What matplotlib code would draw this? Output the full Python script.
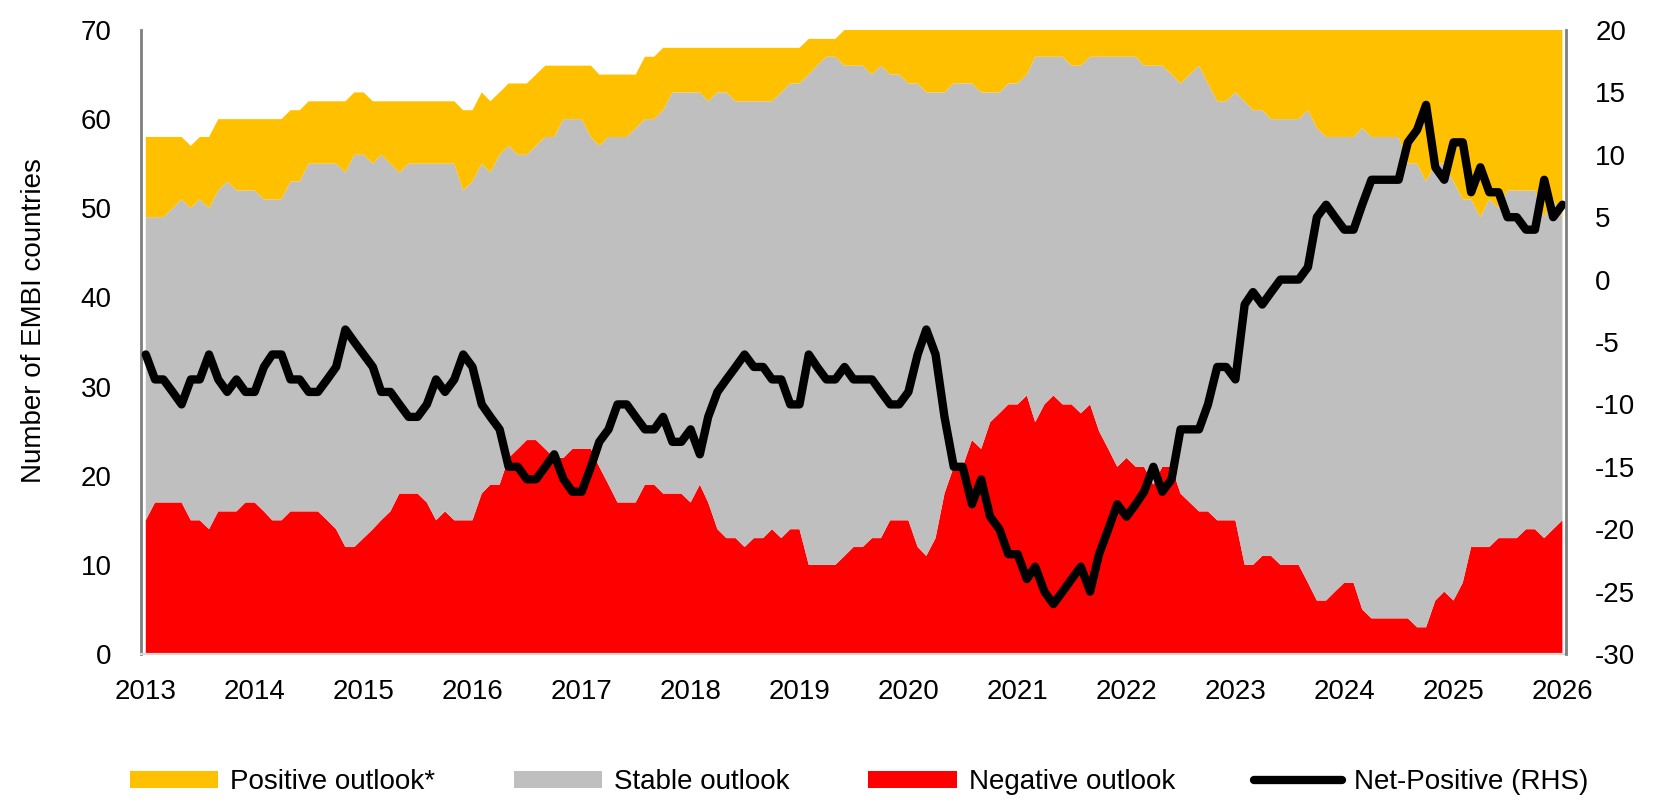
import matplotlib
matplotlib.use("Agg")
import matplotlib.pyplot as plt
import matplotlib.dates as mdates
from matplotlib.patches import Patch
from matplotlib.lines import Line2D
import pandas as pd

plt.rcParams['font.family'] = ['Liberation Sans', 'DejaVu Sans']
plt.rcParams['axes.unicode_minus'] = False

# ---------------- data (monthly, Jan-2013 .. Jan-2026) ----------------
dates = pd.date_range("2013-01-01", "2026-01-01", freq="MS")

negative = [15,17,17,17,17,15,15,14,16,16,
            16,17,17,16,15,15,16,16,16,16,
            15,14,12,12,13,14,15,16,18,18,
            18,17,15,16,15,15,15,18,19,19,
            22,23,24,24,23,22,22,23,23,23,
            21,19,17,17,17,19,19,18,18,18,
            17,19,17,14,13,13,12,13,13,14,
            13,14,14,10,10,10,10,11,12,12,
            13,13,15,15,15,12,11,13,18,21,
            21,24,23,26,27,28,28,29,26,28,
            29,28,28,27,28,25,23,21,22,21,
            21,19,21,21,18,17,16,16,15,15,
            15,10,10,11,11,10,10,10,8,6,
            6,7,8,8,5,4,4,4,4,4,
            3,3,6,7,6,8,12,12,12,13,
            13,13,14,14,13,14,15]

stable = [34,32,32,33,34,35,36,36,36,37,
          36,35,35,35,36,36,37,37,39,39,
          40,41,42,44,43,41,41,39,36,37,
          37,38,40,39,40,37,38,37,35,37,
          35,33,32,33,35,36,38,37,37,35,
          36,39,41,41,42,41,41,43,45,45,
          46,44,45,49,50,49,50,49,49,48,
          50,50,50,55,56,57,57,55,54,54,
          52,53,50,50,49,52,52,50,45,43,
          43,40,40,37,36,36,36,36,41,39,
          38,39,38,39,39,42,44,46,45,46,
          45,47,45,44,46,48,50,48,47,47,
          48,52,51,50,49,50,50,50,53,53,
          52,51,50,50,54,54,54,54,54,51,
          52,50,49,48,47,43,39,37,39,37,
          39,39,38,38,36,37,34]

positive = [9,9,9,8,7,7,7,8,8,7,
            8,8,8,9,9,9,8,8,7,7,
            7,7,8,7,7,7,6,7,8,7,
            7,7,7,7,7,9,8,8,8,7,
            7,8,8,8,8,8,6,6,6,8,
            8,7,7,7,6,7,7,7,5,5,
            5,5,6,5,5,6,6,6,6,6,
            5,4,4,4,3,2,2,4,4,4,
            5,4,5,5,6,6,7,7,7,6,
            6,6,7,7,7,6,6,5,3,3,
            3,3,4,4,3,3,3,3,3,3,
            4,4,4,5,6,5,4,6,8,8,
            7,8,9,9,10,10,10,10,9,11,
            12,12,12,12,11,12,12,12,12,15,
            15,17,15,15,17,19,19,21,19,20,
            18,18,18,18,21,19,21]

net_positive = [-6,-8,-8,-9,-10,-8,-8,-6,-8,-9,
                -8,-9,-9,-7,-6,-6,-8,-8,-9,-9,
                -8,-7,-4,-5,-6,-7,-9,-9,-10,-11,
                -11,-10,-8,-9,-8,-6,-7,-10,-11,-12,
                -15,-15,-16,-16,-15,-14,-16,-17,-17,-15,
                -13,-12,-10,-10,-11,-12,-12,-11,-13,-13,
                -12,-14,-11,-9,-8,-7,-6,-7,-7,-8,
                -8,-10,-10,-6,-7,-8,-8,-7,-8,-8,
                -8,-9,-10,-10,-9,-6,-4,-6,-11,-15,
                -15,-18,-16,-19,-20,-22,-22,-24,-23,-25,
                -26,-25,-24,-23,-25,-22,-20,-18,-19,-18,
                -17,-15,-17,-16,-12,-12,-12,-10,-7,-7,
                -8,-2,-1,-2,-1,0,0,0,1,5,
                6,5,4,4,6,8,8,8,8,11,
                12,14,9,8,11,11,7,9,7,7,
                5,5,4,4,8,5,6]

years = list(range(2013, 2027))
left_ticks = list(range(0, 71, 10))
right_ticks = list(range(-30, 21, 5))

labels = ["Positive outlook*", "Stable outlook", "Negative outlook", "Net-Positive (RHS)"]

# ---------------- styling ----------------
YELLOW = "#FFC000"
GREY = "#BFBFBF"
RED = "#FF0000"
SPINE = "#7F7F7F"
FS = 20

W, H = 1677, 809
fig = plt.figure(figsize=(W / 100, H / 100), dpi=100)
ax = fig.add_axes([141 / W, (H - 654) / H, (1566 - 141) / W, 624 / H])

ax.stackplot(dates, negative, stable, positive,
             colors=[RED, GREY, YELLOW], linewidth=0, antialiased=True)
ax.set_ylim(0, 70)
ax.set_yticks(left_ticks)
ax.set_xlim(dates[0] - pd.Timedelta(days=16), dates[-1] + pd.Timedelta(days=12))
ax.set_xticks([pd.Timestamp(f"{y}-01-01") for y in years])
ax.xaxis.set_major_formatter(mdates.DateFormatter("%Y"))

ax2 = ax.twinx()
ax2.plot(dates, net_positive, color="black", lw=6,
         solid_joinstyle="round", solid_capstyle="round")
ax2.set_ylim(-30, 20)
ax2.set_yticks(right_ticks)

for a in (ax, ax2):
    for s in a.spines.values():
        s.set_visible(False)
ax.spines["left"].set_visible(True)
ax.spines["left"].set_color(SPINE)
ax.spines["left"].set_linewidth(2.0)
ax.spines["bottom"].set_visible(True)
ax.spines["bottom"].set_color("#D9D9D9")
ax.spines["bottom"].set_linewidth(1.6)
ax2.spines["right"].set_visible(True)
ax2.spines["right"].set_color(SPINE)
ax2.spines["right"].set_linewidth(2.0)

ax.tick_params(axis="y", length=0, pad=21, labelsize=FS, colors="black")
ax.tick_params(axis="x", length=0, pad=18, labelsize=FS, colors="black")
ax2.tick_params(axis="y", length=0, pad=21, labelsize=FS, colors="black")

ax.set_ylabel("Number of EMBI countries", fontsize=FS)
ax.yaxis.set_label_coords(-0.066, 0.535)

handles = [Patch(facecolor=YELLOW, edgecolor="none"),
           Patch(facecolor=GREY, edgecolor="none"),
           Patch(facecolor=RED, edgecolor="none"),
           Line2D([], [], color="black", lw=6, solid_capstyle="round")]
fig.legend(handles, labels, loc="center left",
           bbox_to_anchor=(129.5 / W, 1 - 782 / H), ncol=4, frameon=False,
           fontsize=FS, handlelength=3.18, handleheight=0.575,
           handletextpad=0.43, columnspacing=2.84, borderpad=0,
           borderaxespad=0)

fig.savefig("out.png", dpi=100)
